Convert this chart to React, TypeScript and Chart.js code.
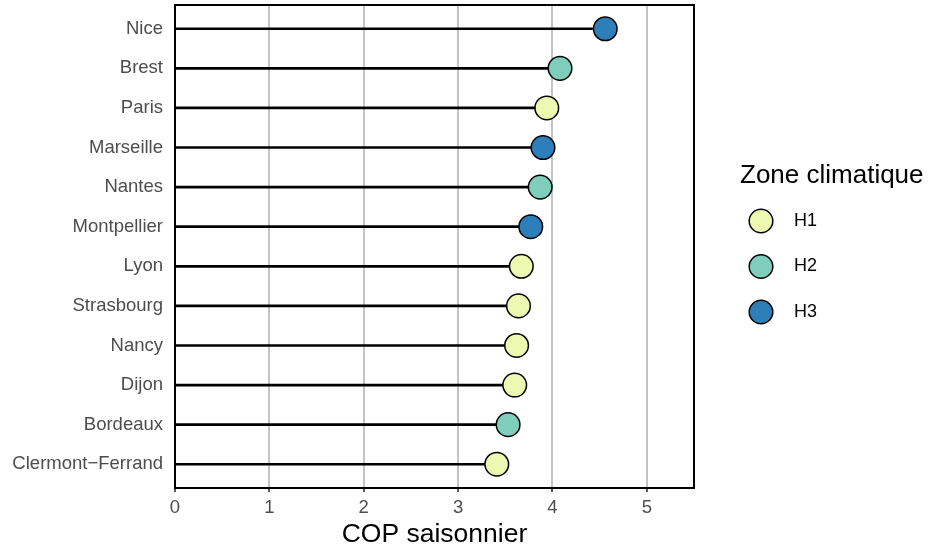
import React, { useEffect, useRef } from "react";
import { Chart, registerables } from "chart.js";

Chart.register(...registerables);

const cities = [
  "Nice",
  "Brest",
  "Paris",
  "Marseille",
  "Nantes",
  "Montpellier",
  "Lyon",
  "Strasbourg",
  "Nancy",
  "Dijon",
  "Bordeaux",
  "Clermont−Ferrand",
];
const copValues = [4.56, 4.08, 3.94, 3.9, 3.87, 3.77, 3.67, 3.64, 3.62, 3.6, 3.53, 3.41];
const cityZones = ["H3", "H2", "H1", "H3", "H2", "H3", "H1", "H1", "H1", "H1", "H2", "H1"];
const zoneNames = ["H1", "H2", "H3"];
const zoneColors = ["#EDF8B1", "#7FCDBB", "#2C7FB8"];
const xTicks = [0, 1, 2, 3, 4, 5];
const xTitle = "COP saisonnier";
const legendTitle = "Zone climatique";

const FONT = '"Liberation Sans", Arial, Helvetica, sans-serif';

const panelPlugin = {
  id: "panelAndLegend",
  afterDraw(chart: any) {
    const { ctx, chartArea: a } = chart;
    ctx.save();
    ctx.strokeStyle = "#000";
    ctx.lineWidth = 2;
    ctx.strokeRect(a.left, a.top, a.right - a.left, a.bottom - a.top);

    // legend
    const lx = a.right + 46;
    ctx.textAlign = "left";
    ctx.textBaseline = "middle";
    ctx.fillStyle = "#000";
    ctx.font = `26px ${FONT}`;
    ctx.fillText(legendTitle, lx, 176);
    zoneNames.forEach((z, i) => {
      const y = 221 + i * 45.5;
      ctx.beginPath();
      ctx.arc(lx + 21, y, 11.8, 0, Math.PI * 2);
      ctx.fillStyle = zoneColors[i];
      ctx.fill();
      ctx.lineWidth = 1.5;
      ctx.strokeStyle = "#000";
      ctx.stroke();
      ctx.fillStyle = "#000";
      ctx.font = `18px ${FONT}`;
      ctx.fillText(z, lx + 54, y);
    });
    ctx.restore();
  },
};

export default function App() {
  const ref = useRef<HTMLCanvasElement | null>(null);

  useEffect(() => {
    document.body.style.margin = "0";
    const pts = cities.map((_, i) => ({ x: copValues[i], y: i }));
    const colors = cityZones.map((z) => zoneColors[zoneNames.indexOf(z)]);
    const chart = new Chart(ref.current as HTMLCanvasElement, {
      type: "bar",
      data: {
        datasets: [
          {
            type: "bar",
            label: "stem",
            data: pts,
            backgroundColor: "#000",
            borderWidth: 0,
            barThickness: 2,
            indexAxis: "y",
            order: 2,
          } as any,
          {
            type: "scatter",
            label: "COP",
            data: pts,
            pointRadius: 11.8,
            pointHoverRadius: 11.8,
            pointBackgroundColor: colors,
            pointBorderColor: "#000",
            pointBorderWidth: 1.5,
            showLine: false,
            clip: false,
            order: 1,
          } as any,
        ],
      },
      options: {
        indexAxis: "y",
        responsive: false,
        animation: false,
        events: [],
        layout: { autoPadding: false, padding: { top: 5, right: 234, bottom: 0, left: 0 } },
        plugins: { legend: { display: false }, tooltip: { enabled: false } },
        scales: {
          x: {
            type: "linear",
            position: "bottom",
            min: 0,
            max: 5.5,
            bounds: "data",
            offset: false,
            grid: {
              offset: false,
              color: "#c4c4c4",
              lineWidth: 2,
              tickColor: "#222",
              tickLength: 4,
              tickWidth: 1.5,
            },
            border: { display: false },
            ticks: {
              color: "#4d4d4d",
              font: { family: FONT, size: 18.5 },
              padding: 5,
            },
            title: {
              display: true,
              text: xTitle,
              color: "#000",
              font: { family: FONT, size: 26.5 },
              padding: { top: 0, bottom: 2 },
            },
            afterBuildTicks: (s: any) => {
              s.ticks = xTicks.map((v) => ({ value: v }));
            },
            afterFit: (s: any) => {
              s.height = 65;
              s.paddingLeft = 0;
              s.paddingRight = 0;
            },
          },
          y: {
            type: "linear",
            reverse: true,
            min: -0.6,
            max: 11.6,
            bounds: "data",
            offset: false,
            grid: { display: false, drawTicks: false, offset: false },
            border: { display: false },
            ticks: {
              color: "#4d4d4d",
              font: { family: FONT, size: 18.5 },
              padding: 12,
              callback: (v: any) => cities[v] ?? "",
            },
            afterBuildTicks: (s: any) => {
              s.ticks = cities.map((_, i) => ({ value: i }));
            },
            afterFit: (s: any) => {
              s.width = 175;
              s.paddingTop = 0;
              s.paddingBottom = 0;
            },
          },
        },
      } as any,
      plugins: [panelPlugin],
    });
    return () => chart.destroy();
  }, []);

  return (
    <div style={{ position: "absolute", left: 0, top: 0, width: 928, height: 553 }}>
      <canvas ref={ref} width={928} height={553} />
    </div>
  );
}
